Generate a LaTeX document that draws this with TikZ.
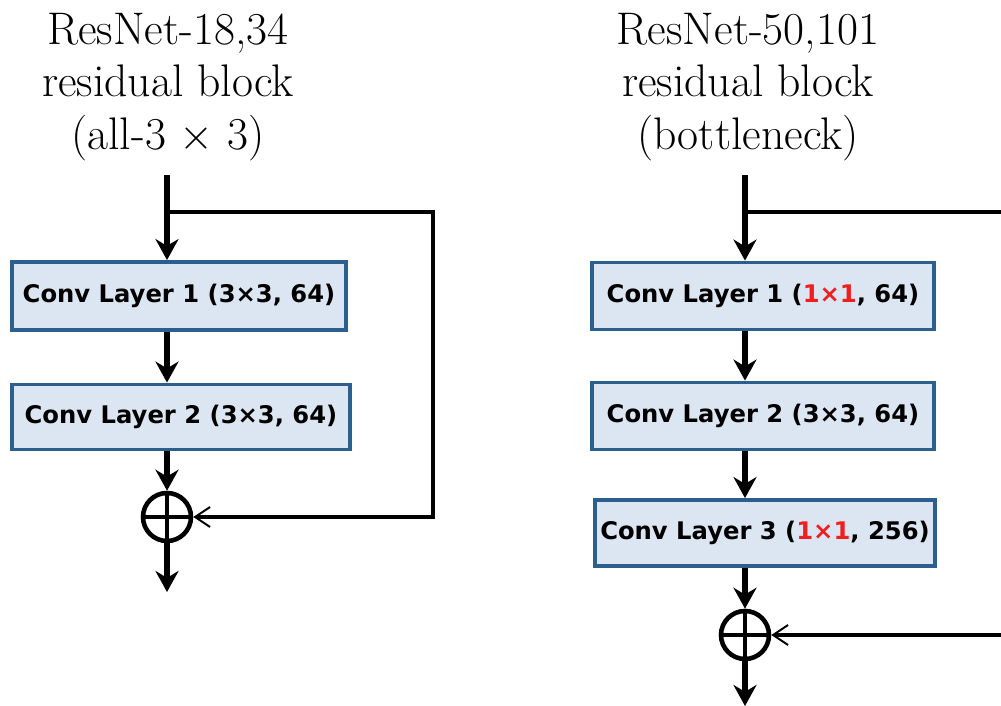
\documentclass[tikz,border=0pt]{standalone}
\usepackage{fontspec}
\usepackage{tikz}
\usetikzlibrary{positioning}
\usetikzlibrary{arrows.meta}
\newfontfamily\boxfont{DejaVu Sans}
\definecolor{boxfill}{HTML}{DCE6F2}
\definecolor{boxline}{HTML}{2D5F8E}
\definecolor{redx}{HTML}{F01E1E}
\tikzset{
    title/.style={align=center, font=\fontsize{26}{30}\selectfont, inner sep=0pt},
    layer/.style={draw=boxline, fill=boxfill, line width=2.2pt, inner sep=0pt,
        font=\boxfont\bfseries\fontsize{13.8}{16}\selectfont},
    flow/.style={line width=3.4pt, -{Stealth[length=0.42cm, width=0.46cm]}},
    skip/.style={line width=2.3pt, -{Straight Barb[length=0.3cm, width=0.4cm, line width=1.1pt]}},
    sum/.style={shape=circle, draw=black, line width=2.6pt, minimum size=0.96cm, inner sep=0pt}
}
\begin{document}
\begin{tikzpicture}[x=0.02cm, y=-0.02cm]
		\useasboundingbox (0,0) rectangle (1001,706);
		\clip (0,0) rectangle (1001,706);
		% left block
		\node[title] (T1) at (168,87) {ResNet-18,34\\residual block\\(all-3 $\times$ 3)};
		\coordinate (in1) at (167,175);
		\coordinate (split1) at (167,212);
		\coordinate (corner1) at (433,212);
		\node[layer, minimum width=6.68cm, minimum height=1.36cm] (A1) at (179,296) {Conv Layer 1 (3×3, 64)};
		\node[layer, minimum width=6.76cm, minimum height=1.30cm] (A2) at (181,417) {Conv Layer 2 (3×3, 64)};
		\node[sum] (S1) at (167,517) {};
		\coordinate (out1) at (167,592);
		
		\draw[flow] (in1) -- (in1 |- A1.north);
		\draw[flow] (in1 |- A1.south) -- (in1 |- A2.north);
		\draw[flow] (in1 |- A2.south) -- (S1.north);
		\draw[line width=2.6pt] (S1.north) -- (S1.south) (S1.west) -- (S1.east);
		\draw[flow] (S1.south) -- (out1);
		\draw[skip] (split1) -- (corner1) |- (S1);
		
		% right block
		\node[title] (T2) at (748,87) {ResNet-50,101\\residual block\\(bottleneck)};
		\coordinate (in2) at (745,175);
		\coordinate (split2) at (745,212);
		\coordinate (corner2) at (1015,212);
		\node[layer, minimum width=6.84cm, minimum height=1.34cm] (B1) at (763,296) {Conv Layer 1 (\textcolor{redx}{1×1}, 64)};
		\node[layer, minimum width=6.84cm, minimum height=1.34cm] (B2) at (763,416) {Conv Layer 2 (3×3, 64)};
		\node[layer, minimum width=6.80cm, minimum height=1.32cm] (B3) at (765,533) {Conv Layer 3 (\textcolor{redx}{1×1}, 256)};
		\node[sum] (S2) at (745,635) {};
		\coordinate (out2) at (745,706);
		
		\draw[flow] (in2) -- (in2 |- B1.north);
		\draw[flow] (in2 |- B1.south) -- (in2 |- B2.north);
		\draw[flow] (in2 |- B2.south) -- (in2 |- B3.north);
		\draw[flow] (in2 |- B3.south) -- (S2.north);
		\draw[line width=2.6pt] (S2.north) -- (S2.south) (S2.west) -- (S2.east);
		\draw[flow] (S2.south) -- (out2);
		\draw[skip] (split2) -- (corner2) |- (S2);
\end{tikzpicture}
\end{document}
